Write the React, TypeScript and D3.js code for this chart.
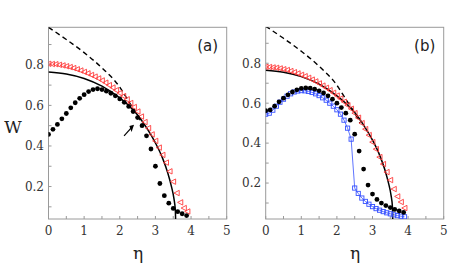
import React from 'react';
import * as d3 from 'd3';

// η sample grids
const etaTri = d3.range(40).map((i) => +(i * 0.1).toFixed(2));
const etaDot = d3.range(32).map((i) => i * 0.125);

// red open triangles
const redA = [
  0.805, 0.804, 0.803, 0.8, 0.797, 0.793, 0.789, 0.784, 0.778, 0.772,
  0.765, 0.758, 0.75, 0.742, 0.733, 0.723, 0.712, 0.7, 0.688, 0.675,
  0.661, 0.646, 0.63, 0.612, 0.592, 0.57, 0.545, 0.518, 0.488, 0.457,
  0.425, 0.392, 0.356, 0.318, 0.275, 0.224, 0.168, 0.122, 0.094, 0.077,
];
const redB = [
  0.782, 0.781, 0.779, 0.777, 0.774, 0.77, 0.766, 0.761, 0.755, 0.749,
  0.742, 0.735, 0.727, 0.718, 0.709, 0.699, 0.688, 0.677, 0.665, 0.652,
  0.638, 0.623, 0.607, 0.59, 0.572, 0.55, 0.527, 0.5, 0.47, 0.44,
  0.405, 0.37, 0.33, 0.295, 0.255, 0.215, 0.17, 0.133, 0.105, 0.075,
];

// black filled dots
const dotA = [
  0.457, 0.482, 0.506, 0.534, 0.56, 0.588, 0.613, 0.635, 0.653, 0.668,
  0.678, 0.682, 0.678, 0.67, 0.66, 0.647, 0.632, 0.615, 0.595, 0.57,
  0.54, 0.5, 0.45, 0.385, 0.3, 0.215, 0.155, 0.118, 0.092, 0.076,
  0.066, 0.057,
];
const dotB = [
  0.562, 0.566, 0.585, 0.607, 0.625, 0.642, 0.656, 0.667, 0.674, 0.676,
  0.675, 0.67, 0.662, 0.651, 0.637, 0.62, 0.6, 0.578, 0.55, 0.515,
  0.445, 0.36, 0.27, 0.19, 0.145, 0.118, 0.1, 0.087, 0.077, 0.068,
  0.06, 0.053,
];

// blue open squares (panel b only)
const blueB = [
  0.545, 0.55, 0.565, 0.585, 0.605, 0.62, 0.635, 0.647, 0.656, 0.661,
  0.663, 0.662, 0.659, 0.654, 0.647, 0.638, 0.627, 0.615, 0.6, 0.585,
  0.567, 0.545, 0.515, 0.475, 0.42, 0.175, 0.148, 0.125, 0.108, 0.094,
  0.082, 0.072, 0.064, 0.057, 0.051, 0.046, 0.041, 0.037, 0.034, 0.031,
];

// solid and dashed curves
const solidEta = [0, 0.5, 1.0, 1.5, 2.0, 2.25, 2.5, 2.75, 3.0, 3.2, 3.35, 3.45, 3.52, 3.56, 3.57];
const solidW = [0.765, 0.755, 0.733, 0.695, 0.637, 0.6, 0.553, 0.49, 0.415, 0.34, 0.265, 0.2, 0.14, 0.08, 0.0];
const dashEta = [0, 0.5, 1.0, 1.5, 2.0, 2.25, 2.5, 2.65];
const dashW = [0.985, 0.925, 0.86, 0.785, 0.69, 0.62, 0.55, 0.5];

const xTicks = [0, 1, 2, 3, 4, 5];
const yTicks = [0.2, 0.4, 0.6, 0.8];

const FRAME = '#9a9a9a';
const RED = '#ff3b3b';
const BLUE = '#3650ff';

type PanelProps = {
  id: string;
  label: string;
  x0: number;
  x1: number;
  yDomain: [number, number];
  red: number[];
  dots: number[];
  blue?: number[];
  arrow?: boolean;
};

const top = 27.3;
const bottom = 219;

function Panel({ id, label, x0, x1, yDomain, red, dots, blue, arrow }: PanelProps) {
  const x = d3.scaleLinear().domain([0, 5]).range([x0, x1]);
  const y = d3.scaleLinear().domain(yDomain).range([bottom, top]);

  const line = d3
    .line<[number, number]>()
    .x((d) => x(d[0]))
    .y((d) => y(d[1]))
    .curve(d3.curveMonotoneX);
  const straight = d3
    .line<[number, number]>()
    .x((d) => x(d[0]))
    .y((d) => y(d[1]));

  const solid = solidEta.map((e, i) => [e, solidW[i]] as [number, number]);
  const dash = dashEta.map((e, i) => [e, dashW[i]] as [number, number]);

  const minor = d3.range(0.1, 1.0, 0.1).filter((v) => v > yDomain[0] && v < yDomain[1]);
  const xMinor = d3.range(0, 5.01, 0.5);

  return (
    <g>
      <defs>
        <clipPath id={`clip-${id}`}>
          <rect x={x0} y={top} width={x1 - x0} height={bottom - top} />
        </clipPath>
      </defs>
      <rect x={x0} y={top} width={x1 - x0} height={bottom - top} fill="none" stroke={FRAME} strokeWidth={1} />
      {minor.map((v) => (
        <line key={`ym${v}`} x1={x0} x2={x0 + 3} y1={y(v)} y2={y(v)} stroke={FRAME} />
      ))}
      {xMinor.map((v) => (
        <line key={`xm${v}`} x1={x(v)} x2={x(v)} y1={bottom} y2={bottom - 3} stroke={FRAME} />
      ))}
      {yTicks.map((v) => (
        <text key={`yl${v}`} x={x0 - 4.5} y={y(v)} dy="0.36em" textAnchor="end"
          fontFamily="DejaVu Serif" fontSize={12} fill="#333">
          {v.toFixed(1)}
        </text>
      ))}
      {xTicks.map((v) => (
        <text key={`xl${v}`} x={x(v)} y={235} textAnchor="middle"
          fontFamily="DejaVu Serif" fontSize={12} fill="#333">
          {v}
        </text>
      ))}
      <text x={(x0 + x1) / 2 + 0.5} y={259} textAnchor="middle" fontFamily="DejaVu Serif" fontSize={17} fill="#222">
        η
      </text>
      <text x={x1 - 19} y={46} dy="0.36em" textAnchor="middle" fontFamily="DejaVu Sans" fontSize={15} fill="#222">
        {label}
      </text>

      <g clipPath={`url(#clip-${id})`}>
        {blue && (
          <path d={straight(etaTri.map((e, i) => [e, blue[i]] as [number, number])) || ''}
            fill="none" stroke={BLUE} strokeWidth={0.8} />
        )}
        <path d={line(dash) || ''} fill="none" stroke="#000" strokeWidth={1.4} strokeDasharray="5,3.5" />
        <path d={line(solid) || ''} fill="none" stroke="#000" strokeWidth={1.5} />
        {red.map((v, i) => {
          const cx = x(etaTri[i]);
          const cy = y(v);
          return (
            <path key={`r${i}`} d={`M${cx - 2.8},${cy}L${cx + 2.4},${cy - 2.7}L${cx + 2.4},${cy + 2.7}Z`}
              fill="none" stroke={RED} strokeWidth={0.9} />
          );
        })}
        {blue &&
          blue.map((v, i) => (
            <rect key={`b${i}`} x={x(etaTri[i]) - 2.1} y={y(v) - 2.1} width={4.2} height={4.2}
              fill="none" stroke={BLUE} strokeWidth={0.9} />
          ))}
        {dots.map((v, i) => (
          <circle key={`d${i}`} cx={x(etaDot[i])} cy={y(v)} r={2.4} fill="#000" />
        ))}
      </g>

      {arrow && (
        <g stroke="#000" strokeWidth={1.2} fill="#000">
          <line x1={x(2.12)} y1={y(0.45)} x2={x(2.36)} y2={y(0.497)} />
          <path d={d3.line()([
            [x(2.4), y(0.505)],
            [x(2.27), y(0.499)],
            [x(2.33), y(0.469)],
          ]) + 'Z'} stroke="none" />
        </g>
      )}
    </g>
  );
}

export default function App() {
  return (
    <svg width={463} height={266} style={{ position: 'absolute', left: 0, top: 0, background: '#fff' }}>
      <text x={13} y={127} dy="0.36em" textAnchor="middle" fontFamily="DejaVu Serif" fontSize={17} fill="#222">
        W
      </text>
      <Panel id="a" label="(a)" x0={48.5} x1={226.7} yDomain={[0.04, 0.985]} red={redA} dots={dotA} arrow />
      <Panel id="b" label="(b)" x0={265.7} x1={443.7} yDomain={[0.02, 0.98]} red={redB} dots={dotB} blue={blueB} />
    </svg>
  );
}
